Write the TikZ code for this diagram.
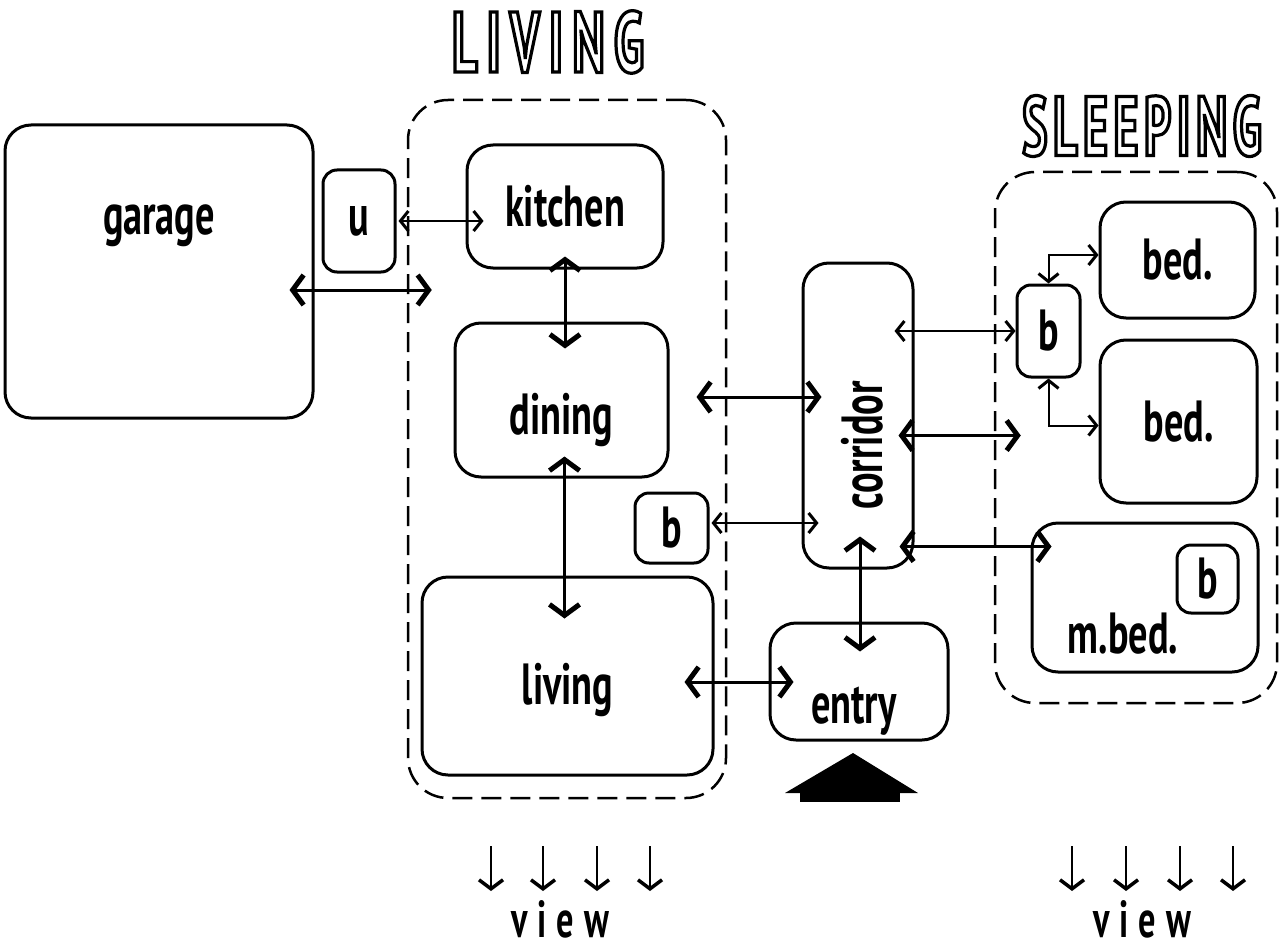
\documentclass[tikz,border=0pt]{standalone}
\usepackage{fontspec}
\setmainfont{PT Sans}[FakeStretch=0.66]
\newfontfamily\titlefont{PT Sans}[FakeStretch=0.57, LetterSpace=11]
\newfontfamily\titlefontb{PT Sans}[FakeStretch=0.56, LetterSpace=7]
\usetikzlibrary{arrows.meta,positioning}

\newcommand\roomfont{\fontsize{58}{60}\selectfont\bfseries}
\newcommand\viewfont{\fontsize{52}{54}\selectfont\bfseries}
\newcommand\hollow[1]{\special{pdf:literal direct q 1 Tr 3.2 w}#1\special{pdf:literal direct Q}}
\tikzset{
  room/.style={draw, line width=3pt, rounded corners=26pt, inner sep=0pt, font=\roomfont},
  bath/.style={room, rounded corners=14pt},
  zone/.style={draw, line width=2.5pt, dash pattern=on 20pt off 9pt, rounded corners=40pt},
  link/.style={line width=3pt, {Straight Barb[length=11pt,width=30pt,line width=5pt]}-{Straight Barb[length=11pt,width=30pt,line width=5pt]}},
  thinlink/.style={line width=2pt, {Straight Barb[length=8pt,width=20pt,line width=3pt]}-{Straight Barb[length=8pt,width=20pt,line width=3pt]}},
  viewarrow/.style={line width=2.5pt, -{Straight Barb[length=9pt,width=24pt,line width=3.5pt]}},
  title/.style={font=\titlefont\fontsize{86}{88}\selectfont\bfseries},
}

\begin{document}
\begin{tikzpicture}[x=1pt,y=-1pt]
\useasboundingbox (0,0) rectangle (1281,952);
% zones
\node[zone, minimum width=318pt, minimum height=698pt] (lzone) at (567,449) {};
\node[zone, minimum width=282pt, minimum height=531pt] (szone) at (1136,437.5) {};
\node[title] (livingtitle) at (548,42) {\hollow{LIVING}};
\node[title, font=\titlefontb\fontsize{84}{86}\selectfont\bfseries] (sleepingtitle) at (1142,126) {\hollow{SLEEPING}};
% rooms
\node[room, minimum width=308pt, minimum height=293pt, label={[font=\roomfont, yshift=46pt]center:garage}] (garage) at (159,271.5) {};
\node[bath, minimum width=72pt, minimum height=102pt] (u) at (359,221) {u};
\node[room, minimum width=196pt, minimum height=123pt] (kitchen) at (565,206.5) {kitchen};
\node[room, minimum width=213pt, minimum height=154pt, label={[font=\roomfont, yshift=-20pt]center:dining}] (dining) at (561.5,400) {};
\node[room, minimum width=291pt, minimum height=198pt, label={[font=\roomfont, yshift=-14pt]center:living}] (living) at (567.5,676) {};
\node[bath, minimum width=73pt, minimum height=70pt] (blv) at (671.5,528) {b};
\node[room, minimum width=110pt, minimum height=305pt, label={[font=\roomfont, xshift=4pt, yshift=-30pt, rotate=90]center:corridor}] (corridor) at (858,415.5) {};
\node[room, minimum width=178pt, minimum height=117pt, label={[font=\roomfont, xshift=-5pt, yshift=-30pt]center:entry}] (entry) at (859,681.5) {};
\node[bath, minimum width=63pt, minimum height=92pt] (bsl) at (1048.5,331) {b};
\node[room, minimum width=155pt, minimum height=116pt] (bed1) at (1177.5,260) {bed.};
\node[room, minimum width=157pt, minimum height=163pt] (bed2) at (1178.5,421.5) {bed.};
\node[room, minimum width=226pt, minimum height=149pt, label={[font=\roomfont, xshift=-22pt, yshift=-36pt]center:m.bed.}] (mbed) at (1145,597.5) {};
\node[bath, minimum width=61pt, minimum height=68pt] (mbath) at (1207.5,579) {b};
% links
\draw[link] ([shift={(-25,18.5)}]garage.east) -- ([shift={(25,18.5)}]garage.east -| lzone.west);
\draw[thinlink] ([xshift=2pt]u.east) -- ([xshift=18pt]u.east -| kitchen.west);
\draw[link] ([yshift=13pt]kitchen.south) -- ([yshift=-27pt]kitchen.south |- dining.north);
\draw[link] ([shift={(3,-22)}]dining.south) -- ([shift={(3,43)}]dining.south |- living.north);
\draw[link] ([shift={(27,-3)}]dining.east) -- ([shift={(20,-3)}]dining.east -| corridor.west);
\draw[thinlink] ([shift={(2,-5)}]blv.east) -- ([shift={(17,-5)}]blv.east -| corridor.west);
\draw[link] ([shift={(-30,6)}]living.east) -- ([shift={(25,6)}]living.east -| entry.west);
\draw[link] ([shift={(2,-33)}]corridor.south) -- ([shift={(2,30)}]corridor.south |- entry.north);
\draw[thinlink] ([xshift=-20pt]bsl.west -| corridor.east) -- (bsl.west);
\draw[link] ([shift={(-16,20)}]corridor.east) -- ([shift={(27,20)}]corridor.east -| szone.west);
\draw[link] ([shift={(-15,25)}]mbed.north west -| corridor.east) -- ([shift={(21,25)}]mbed.north west);
\draw[thinlink] (bsl.north) |- ([yshift=5pt]bed1.west);
\draw[thinlink] (bsl.south) |- ([yshift=-4pt]bed2.west);
% front entrance
\fill (785,793) -- (853,753) -- (918,793) -- cycle;
\fill (800,790) rectangle (900,802);
% views
\foreach \x in {491,543,597,650,1072,1126,1180,1233}
  \draw[viewarrow] (\x,846) -- (\x,891);
\node[font=\viewfont] (view1) at (560,919) {v\hspace{10pt}i\hspace{10pt}e\hspace{10pt}w};
\node[font=\viewfont] (view2) at (1142,919) {v\hspace{10pt}i\hspace{10pt}e\hspace{10pt}w};
\end{tikzpicture}
\end{document}
